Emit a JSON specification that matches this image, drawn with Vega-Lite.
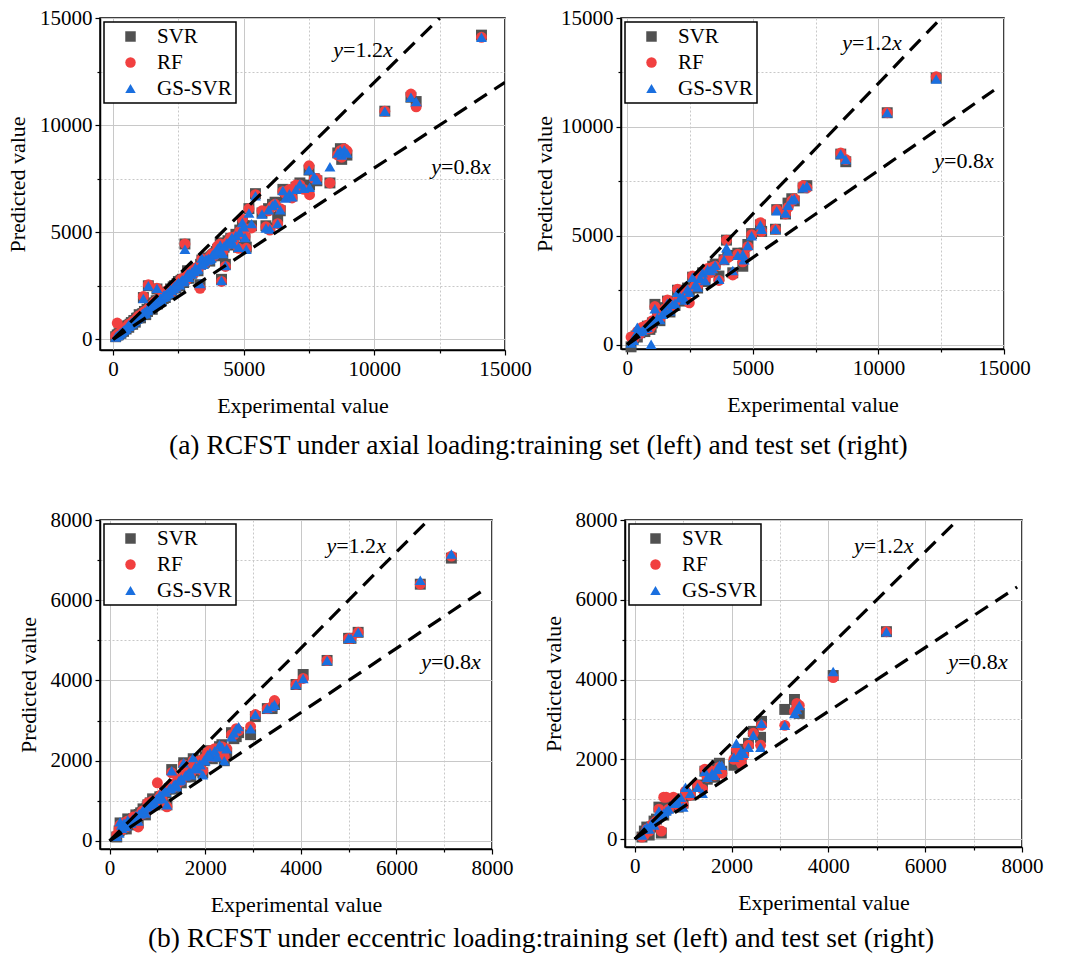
{
"$schema":"https://vega.github.io/schema/vega-lite/v6.json",
"padding":{"left":5,"top":6,"right":0,"bottom":0},
"config":{
 "font":"Liberation Serif",
 "view":{"stroke":"#000","strokeWidth":1.5},
 "axis":{"labelFont":"Liberation Serif","titleFont":"Liberation Serif","labelFontSize":21,"titleFontSize":22,"titleFontWeight":"normal","labelColor":"#000","titleColor":"#000","domainColor":"#000","domainWidth":1.5,"tickColor":"#000","tickWidth":1.2,"gridColor":"#c8c8c8","gridWidth":1,"labelFlush":false,"labelOverlap":false,"labelPadding":3,"format":"d"},
 "axisX":{"titlePadding":16},
 "axisY":{"titlePadding":10},
 "legend":{"orient":"top-left","offset":4,"labelFont":"Liberation Serif","labelFontSize":21,"labelColor":"#000","strokeColor":"#000","strokeWidth":1.5,"fillColor":"#fff","padding":4,"rowPadding":4,"symbolSize":110,"symbolOffset":12,"labelOffset":16,"cornerRadius":0},
 "title":{"font":"Liberation Serif","fontSize":27.5,"fontWeight":"normal","color":"#000"}
},
"datasets":{
 "a":[
{"x":100,"SVR":120,"RF":150,"GS-SVR":110},{"x":160,"SVR":200,"RF":760,"GS-SVR":180},{"x":200,"SVR":210,"RF":250,"GS-SVR":190},{"x":250,"SVR":300,"RF":280,"GS-SVR":260},{"x":300,"SVR":280,"RF":330,"GS-SVR":310},{"x":350,"SVR":400,"RF":380,"GS-SVR":360},{"x":400,"SVR":370,"RF":450,"GS-SVR":420},{"x":450,"SVR":500,"RF":480,"GS-SVR":460},{"x":500,"SVR":480,"RF":560,"GS-SVR":520},{"x":550,"SVR":620,"RF":580,"GS-SVR":600},{"x":600,"SVR":560,"RF":650,"GS-SVR":610},{"x":650,"SVR":700,"RF":690,"GS-SVR":680},{"x":700,"SVR":780,"RF":740,"GS-SVR":720},{"x":750,"SVR":700,"RF":820,"GS-SVR":760},{"x":800,"SVR":880,"RF":850,"GS-SVR":830},{"x":850,"SVR":800,"RF":900,"GS-SVR":870},{"x":900,"SVR":980,"RF":950,"GS-SVR":940},{"x":950,"SVR":1000,"RF":1050,"GS-SVR":990},{"x":1000,"SVR":1150,"RF":1100,"GS-SVR":1080},{"x":1050,"SVR":1000,"RF":1120,"GS-SVR":1060},{"x":1160,"SVR":1950,"RF":2000,"GS-SVR":1900},{"x":1150,"SVR":1200,"RF":1250,"GS-SVR":1180},{"x":1200,"SVR":1300,"RF":1260,"GS-SVR":1280},{"x":1250,"SVR":1150,"RF":1320,"GS-SVR":1200},{"x":1300,"SVR":1400,"RF":1350,"GS-SVR":1380},{"x":1350,"SVR":2500,"RF":2550,"GS-SVR":2500},{"x":1400,"SVR":1450,"RF":1500,"GS-SVR":1430},{"x":1450,"SVR":1600,"RF":1520,"GS-SVR":1580},{"x":1500,"SVR":1400,"RF":1560,"GS-SVR":1500},{"x":1550,"SVR":1700,"RF":1650,"GS-SVR":1680},{"x":1600,"SVR":1650,"RF":1750,"GS-SVR":1640},{"x":1650,"SVR":1800,"RF":1720,"GS-SVR":1760},{"x":1680,"SVR":2350,"RF":2380,"GS-SVR":2380},{"x":1700,"SVR":1650,"RF":1780,"GS-SVR":1700},{"x":1800,"SVR":1900,"RF":1850,"GS-SVR":1880},{"x":1850,"SVR":1800,"RF":1950,"GS-SVR":1830},{"x":1900,"SVR":2000,"RF":1980,"GS-SVR":1960},{"x":1950,"SVR":2100,"RF":2050,"GS-SVR":2080},{"x":2000,"SVR":1950,"RF":2100,"GS-SVR":2000},{"x":2050,"SVR":2150,"RF":2200,"GS-SVR":2120},{"x":2100,"SVR":2200,"RF":2300,"GS-SVR":2180},{"x":2150,"SVR":2100,"RF":2250,"GS-SVR":2150},{"x":2200,"SVR":2350,"RF":2300,"GS-SVR":2320},{"x":2250,"SVR":2300,"RF":2400,"GS-SVR":2280},{"x":2300,"SVR":2450,"RF":2350,"GS-SVR":2400},{"x":2350,"SVR":2500,"RF":2450,"GS-SVR":2480},{"x":2400,"SVR":2400,"RF":2550,"GS-SVR":2450},{"x":2450,"SVR":2600,"RF":2500,"GS-SVR":2580},{"x":2500,"SVR":2700,"RF":2650,"GS-SVR":2650},{"x":2550,"SVR":2500,"RF":2600,"GS-SVR":2550},{"x":2600,"SVR":2750,"RF":2800,"GS-SVR":2700},{"x":2650,"SVR":2800,"RF":2700,"GS-SVR":2780},{"x":2700,"SVR":2650,"RF":2850,"GS-SVR":2700},{"x":2750,"SVR":4450,"RF":4450,"GS-SVR":4200},{"x":2800,"SVR":2950,"RF":2900,"GS-SVR":2920},{"x":2850,"SVR":3200,"RF":3000,"GS-SVR":3050},{"x":2900,"SVR":2850,"RF":3000,"GS-SVR":2900},{"x":3000,"SVR":3100,"RF":3150,"GS-SVR":3050},{"x":3100,"SVR":3200,"RF":3100,"GS-SVR":3180},{"x":3200,"SVR":3300,"RF":3350,"GS-SVR":3250},{"x":3330,"SVR":2550,"RF":2380,"GS-SVR":2600},{"x":3350,"SVR":3500,"RF":3450,"GS-SVR":3480},{"x":3400,"SVR":3700,"RF":3750,"GS-SVR":3800},{"x":3500,"SVR":3600,"RF":3550,"GS-SVR":3620},{"x":3600,"SVR":3750,"RF":3700,"GS-SVR":3700},{"x":3700,"SVR":3650,"RF":3850,"GS-SVR":3720},{"x":3800,"SVR":3900,"RF":4000,"GS-SVR":3950},{"x":3900,"SVR":4000,"RF":3950,"GS-SVR":4050},{"x":4000,"SVR":4200,"RF":4350,"GS-SVR":4250},{"x":4100,"SVR":4500,"RF":4450,"GS-SVR":4400},{"x":4150,"SVR":2800,"RF":2700,"GS-SVR":2750},{"x":4200,"SVR":3900,"RF":4100,"GS-SVR":4000},{"x":4300,"SVR":3500,"RF":3400,"GS-SVR":3450},{"x":4400,"SVR":4600,"RF":4550,"GS-SVR":4500},{"x":4500,"SVR":4700,"RF":4750,"GS-SVR":4650},{"x":4600,"SVR":4400,"RF":4500,"GS-SVR":4450},{"x":4700,"SVR":4900,"RF":4800,"GS-SVR":4850},{"x":4800,"SVR":4300,"RF":4250,"GS-SVR":4300},{"x":4850,"SVR":5100,"RF":5050,"GS-SVR":5000},{"x":4950,"SVR":5500,"RF":5600,"GS-SVR":5450},{"x":5000,"SVR":5300,"RF":5200,"GS-SVR":5250},{"x":5050,"SVR":4700,"RF":4800,"GS-SVR":4750},{"x":5100,"SVR":4300,"RF":4250,"GS-SVR":4200},{"x":5200,"SVR":6100,"RF":6100,"GS-SVR":5900},{"x":5300,"SVR":5300,"RF":5200,"GS-SVR":5400},{"x":5450,"SVR":6800,"RF":6750,"GS-SVR":6700},{"x":5700,"SVR":5900,"RF":6000,"GS-SVR":5850},{"x":5850,"SVR":5300,"RF":5250,"GS-SVR":5200},{"x":5950,"SVR":6100,"RF":6000,"GS-SVR":6050},{"x":6000,"SVR":5200,"RF":5100,"GS-SVR":5150},{"x":6100,"SVR":6300,"RF":6200,"GS-SVR":6250},{"x":6200,"SVR":6400,"RF":6300,"GS-SVR":6350},{"x":6300,"SVR":5700,"RF":5400,"GS-SVR":5400},{"x":6400,"SVR":6000,"RF":6100,"GS-SVR":6050},{"x":6500,"SVR":7000,"RF":6900,"GS-SVR":6950},{"x":6600,"SVR":6700,"RF":6800,"GS-SVR":6600},{"x":6750,"SVR":6900,"RF":7000,"GS-SVR":6800},{"x":6850,"SVR":6700,"RF":6600,"GS-SVR":6650},{"x":7000,"SVR":7100,"RF":7200,"GS-SVR":7000},{"x":7150,"SVR":7300,"RF":7200,"GS-SVR":7250},{"x":7300,"SVR":7100,"RF":7000,"GS-SVR":7050},{"x":7500,"SVR":7900,"RF":8100,"GS-SVR":7900},{"x":7520,"SVR":7200,"RF":6750,"GS-SVR":7100},{"x":7700,"SVR":7500,"RF":7500,"GS-SVR":7600},{"x":7800,"SVR":7400,"RF":7500,"GS-SVR":7450},{"x":8300,"SVR":7300,"RF":7300,"GS-SVR":8050},{"x":8600,"SVR":8700,"RF":8600,"GS-SVR":8700},{"x":8700,"SVR":8900,"RF":8800,"GS-SVR":8800},{"x":8750,"SVR":8400,"RF":8500,"GS-SVR":8600},{"x":8850,"SVR":8700,"RF":8900,"GS-SVR":8850},{"x":8950,"SVR":8600,"RF":8800,"GS-SVR":8700},{"x":10400,"SVR":10650,"RF":10650,"GS-SVR":10650},{"x":11400,"SVR":11300,"RF":11450,"GS-SVR":11300},{"x":11600,"SVR":11100,"RF":10850,"GS-SVR":11100},{"x":14100,"SVR":14200,"RF":14100,"GS-SVR":14100},
{"x":600,"SVR":650,"RF":700,"GS-SVR":680},{"x":700,"SVR":750,"RF":720,"GS-SVR":780},{"x":800,"SVR":850,"RF":820,"GS-SVR":880},{"x":1020,"SVR":1100,"RF":1050,"GS-SVR":1080},{"x":1120,"SVR":1180,"RF":1150,"GS-SVR":1200},{"x":1220,"SVR":1250,"RF":1300,"GS-SVR":1270},{"x":1320,"SVR":1300,"RF":1380,"GS-SVR":1340},{"x":1420,"SVR":1500,"RF":1480,"GS-SVR":1520},{"x":1520,"SVR":1550,"RF":1620,"GS-SVR":1600},{"x":1620,"SVR":1700,"RF":1650,"GS-SVR":1720},{"x":1720,"SVR":1800,"RF":1850,"GS-SVR":1780},{"x":1820,"SVR":1850,"RF":1900,"GS-SVR":1920},{"x":1920,"SVR":1900,"RF":2050,"GS-SVR":2000},{"x":2020,"SVR":2100,"RF":2150,"GS-SVR":2080},{"x":2120,"SVR":2150,"RF":2250,"GS-SVR":2200},{"x":2220,"SVR":2250,"RF":2200,"GS-SVR":2300},{"x":2320,"SVR":2400,"RF":2450,"GS-SVR":2380},{"x":2420,"SVR":2500,"RF":2450,"GS-SVR":2550},{"x":2520,"SVR":2600,"RF":2550,"GS-SVR":2620},{"x":2620,"SVR":2650,"RF":2700,"GS-SVR":2720},{"x":2720,"SVR":2800,"RF":2850,"GS-SVR":2780},{"x":2820,"SVR":2850,"RF":2800,"GS-SVR":2900},{"x":2920,"SVR":3050,"RF":3000,"GS-SVR":3100},{"x":3020,"SVR":3100,"RF":3200,"GS-SVR":3150},{"x":3150,"SVR":3300,"RF":3250,"GS-SVR":3350},{"x":3250,"SVR":3200,"RF":3300,"GS-SVR":3280},{"x":3450,"SVR":3550,"RF":3600,"GS-SVR":3500},{"x":3550,"SVR":3700,"RF":3650,"GS-SVR":3750},{"x":3650,"SVR":3800,"RF":3700,"GS-SVR":3780},{"x":3750,"SVR":3850,"RF":3900,"GS-SVR":3800},{"x":3850,"SVR":3950,"RF":3900,"GS-SVR":3980},{"x":3950,"SVR":4100,"RF":4050,"GS-SVR":4150},{"x":4050,"SVR":4100,"RF":4150,"GS-SVR":4200},{"x":4250,"SVR":4300,"RF":4400,"GS-SVR":4350},{"x":4350,"SVR":4450,"RF":4400,"GS-SVR":4500},{"x":4450,"SVR":4500,"RF":4600,"GS-SVR":4550},{"x":4550,"SVR":4700,"RF":4650,"GS-SVR":4750}
 ],
 "b":[
{"x":150,"SVR":-100,"RF":350,"GS-SVR":80},{"x":250,"SVR":300,"RF":250,"GS-SVR":200},{"x":350,"SVR":400,"RF":450,"GS-SVR":500},{"x":400,"SVR":350,"RF":600,"GS-SVR":800},{"x":500,"SVR":550,"RF":500,"GS-SVR":600},{"x":600,"SVR":700,"RF":800,"GS-SVR":650},{"x":700,"SVR":600,"RF":700,"GS-SVR":750},{"x":800,"SVR":850,"RF":900,"GS-SVR":800},{"x":900,"SVR":700,"RF":750,"GS-SVR":1000},{"x":950,"SVR":800,"RF":850,"GS-SVR":20},{"x":1000,"SVR":1000,"RF":1100,"GS-SVR":1050},{"x":1100,"SVR":1850,"RF":1750,"GS-SVR":1650},{"x":1200,"SVR":1200,"RF":1300,"GS-SVR":1250},{"x":1300,"SVR":1100,"RF":1200,"GS-SVR":1150},{"x":1400,"SVR":1450,"RF":1500,"GS-SVR":1400},{"x":1500,"SVR":1700,"RF":1650,"GS-SVR":1600},{"x":1600,"SVR":2000,"RF":2050,"GS-SVR":1900},{"x":1700,"SVR":1500,"RF":1600,"GS-SVR":1550},{"x":1800,"SVR":1900,"RF":1850,"GS-SVR":1850},{"x":1900,"SVR":1800,"RF":1950,"GS-SVR":1900},{"x":2000,"SVR":2500,"RF":2550,"GS-SVR":2400},{"x":2100,"SVR":2050,"RF":2200,"GS-SVR":2150},{"x":2200,"SVR":2300,"RF":2250,"GS-SVR":2200},{"x":2300,"SVR":2000,"RF":2100,"GS-SVR":2050},{"x":2400,"SVR":2600,"RF":2500,"GS-SVR":2550},{"x":2470,"SVR":2450,"RF":1920,"GS-SVR":2400},{"x":2600,"SVR":3100,"RF":3150,"GS-SVR":3100},{"x":2700,"SVR":2800,"RF":2700,"GS-SVR":2750},{"x":2800,"SVR":2600,"RF":2700,"GS-SVR":2650},{"x":2900,"SVR":3000,"RF":3100,"GS-SVR":3050},{"x":3000,"SVR":3300,"RF":3200,"GS-SVR":3300},{"x":3100,"SVR":2900,"RF":3000,"GS-SVR":2950},{"x":3200,"SVR":3400,"RF":3500,"GS-SVR":3450},{"x":3300,"SVR":3400,"RF":3300,"GS-SVR":3400},{"x":3400,"SVR":3600,"RF":3550,"GS-SVR":3500},{"x":3500,"SVR":3700,"RF":3600,"GS-SVR":3650},{"x":3650,"SVR":3150,"RF":2950,"GS-SVR":3000},{"x":3850,"SVR":3900,"RF":3900,"GS-SVR":3900},{"x":3950,"SVR":4800,"RF":4800,"GS-SVR":4450},{"x":4000,"SVR":4100,"RF":4000,"GS-SVR":4300},{"x":4200,"SVR":3300,"RF":3200,"GS-SVR":3400},{"x":4400,"SVR":4200,"RF":4150,"GS-SVR":4100},{"x":4600,"SVR":3600,"RF":3800,"GS-SVR":4150},{"x":4650,"SVR":4200,"RF":4100,"GS-SVR":3900},{"x":4800,"SVR":4600,"RF":4500,"GS-SVR":4550},{"x":4950,"SVR":5100,"RF":5050,"GS-SVR":5000},{"x":5300,"SVR":5500,"RF":5600,"GS-SVR":5500},{"x":5350,"SVR":5200,"RF":5200,"GS-SVR":5300},{"x":5900,"SVR":5300,"RF":5300,"GS-SVR":5300},{"x":5950,"SVR":6200,"RF":6200,"GS-SVR":6150},{"x":6300,"SVR":6000,"RF":6000,"GS-SVR":6050},{"x":6400,"SVR":6500,"RF":6300,"GS-SVR":6400},{"x":6550,"SVR":6700,"RF":6600,"GS-SVR":6650},{"x":6650,"SVR":6600,"RF":6700,"GS-SVR":6700},{"x":7000,"SVR":7200,"RF":7300,"GS-SVR":7200},{"x":7150,"SVR":7300,"RF":7200,"GS-SVR":7300},{"x":8500,"SVR":8750,"RF":8800,"GS-SVR":8750},{"x":8700,"SVR":8400,"RF":8500,"GS-SVR":8500},{"x":10350,"SVR":10650,"RF":10650,"GS-SVR":10650},{"x":12300,"SVR":12250,"RF":12300,"GS-SVR":12200}
 ],
 "c":[
{"x":150,"SVR":100,"RF":150,"GS-SVR":120},{"x":200,"SVR":250,"RF":300,"GS-SVR":200},{"x":220,"SVR":450,"RF":400,"GS-SVR":480},{"x":250,"SVR":350,"RF":300,"GS-SVR":400},{"x":300,"SVR":400,"RF":450,"GS-SVR":450},{"x":350,"SVR":300,"RF":350,"GS-SVR":380},{"x":380,"SVR":550,"RF":500,"GS-SVR":520},{"x":400,"SVR":500,"RF":450,"GS-SVR":480},{"x":450,"SVR":400,"RF":500,"GS-SVR":450},{"x":500,"SVR":550,"RF":600,"GS-SVR":520},{"x":550,"SVR":650,"RF":600,"GS-SVR":620},{"x":600,"SVR":450,"RF":350,"GS-SVR":500},{"x":650,"SVR":700,"RF":650,"GS-SVR":680},{"x":700,"SVR":800,"RF":750,"GS-SVR":760},{"x":750,"SVR":650,"RF":700,"GS-SVR":700},{"x":800,"SVR":900,"RF":950,"GS-SVR":850},{"x":850,"SVR":950,"RF":900,"GS-SVR":900},{"x":900,"SVR":1050,"RF":1000,"GS-SVR":1000},{"x":950,"SVR":900,"RF":950,"GS-SVR":930},{"x":1000,"SVR":1000,"RF":1450,"GS-SVR":1050},{"x":1050,"SVR":1100,"RF":1100,"GS-SVR":1150},{"x":1100,"SVR":1000,"RF":1050,"GS-SVR":1050},{"x":1150,"SVR":1200,"RF":1250,"GS-SVR":1250},{"x":1200,"SVR":900,"RF":850,"GS-SVR":900},{"x":1250,"SVR":1300,"RF":1350,"GS-SVR":1300},{"x":1300,"SVR":1780,"RF":1700,"GS-SVR":1750},{"x":1350,"SVR":1400,"RF":1350,"GS-SVR":1400},{"x":1400,"SVR":1300,"RF":1400,"GS-SVR":1350},{"x":1450,"SVR":1500,"RF":1550,"GS-SVR":1500},{"x":1500,"SVR":1450,"RF":1500,"GS-SVR":1550},{"x":1550,"SVR":1950,"RF":1900,"GS-SVR":1950},{"x":1600,"SVR":1600,"RF":1650,"GS-SVR":1650},{"x":1650,"SVR":1700,"RF":1650,"GS-SVR":1700},{"x":1700,"SVR":1600,"RF":1700,"GS-SVR":1650},{"x":1750,"SVR":2050,"RF":2000,"GS-SVR":2080},{"x":1800,"SVR":1850,"RF":1900,"GS-SVR":1850},{"x":1850,"SVR":1750,"RF":1800,"GS-SVR":1800},{"x":1900,"SVR":1950,"RF":2000,"GS-SVR":1900},{"x":1950,"SVR":1700,"RF":1750,"GS-SVR":1650},{"x":2000,"SVR":2100,"RF":2050,"GS-SVR":2000},{"x":2050,"SVR":2150,"RF":2200,"GS-SVR":2150},{"x":2100,"SVR":2250,"RF":2250,"GS-SVR":2200},{"x":2150,"SVR":2050,"RF":2100,"GS-SVR":2100},{"x":2200,"SVR":2200,"RF":2300,"GS-SVR":2250},{"x":2250,"SVR":2100,"RF":2150,"GS-SVR":2100},{"x":2300,"SVR":2350,"RF":2300,"GS-SVR":2400},{"x":2350,"SVR":2400,"RF":2350,"GS-SVR":2350},{"x":2400,"SVR":2000,"RF":2100,"GS-SVR":2000},{"x":2450,"SVR":2200,"RF":2300,"GS-SVR":2300},{"x":2550,"SVR":2700,"RF":2650,"GS-SVR":2600},{"x":2600,"SVR":2550,"RF":2650,"GS-SVR":2700},{"x":2650,"SVR":2600,"RF":2800,"GS-SVR":2800},{"x":2700,"SVR":2700,"RF":2750,"GS-SVR":2850},{"x":2950,"SVR":2650,"RF":2850,"GS-SVR":2800},{"x":3050,"SVR":3100,"RF":3150,"GS-SVR":3150},{"x":3300,"SVR":3300,"RF":3300,"GS-SVR":3300},{"x":3400,"SVR":3300,"RF":3350,"GS-SVR":3350},{"x":3450,"SVR":3400,"RF":3500,"GS-SVR":3400},{"x":3900,"SVR":3900,"RF":3900,"GS-SVR":3900},{"x":4050,"SVR":4150,"RF":4050,"GS-SVR":4050},{"x":4550,"SVR":4500,"RF":4500,"GS-SVR":4500},{"x":5000,"SVR":5050,"RF":5050,"GS-SVR":5050},{"x":5050,"SVR":5050,"RF":5050,"GS-SVR":5050},{"x":5200,"SVR":5200,"RF":5200,"GS-SVR":5200},{"x":6500,"SVR":6400,"RF":6400,"GS-SVR":6500},{"x":7150,"SVR":7050,"RF":7100,"GS-SVR":7150},
{"x":260,"SVR":300,"RF":280,"GS-SVR":320},{"x":320,"SVR":350,"RF":380,"GS-SVR":360},{"x":420,"SVR":450,"RF":480,"GS-SVR":460},{"x":480,"SVR":520,"RF":500,"GS-SVR":540},{"x":560,"SVR":600,"RF":580,"GS-SVR":620},{"x":620,"SVR":660,"RF":640,"GS-SVR":680},{"x":680,"SVR":700,"RF":740,"GS-SVR":720},{"x":720,"SVR":780,"RF":760,"GS-SVR":800},{"x":780,"SVR":820,"RF":800,"GS-SVR":850},{"x":880,"SVR":920,"RF":900,"GS-SVR":950},{"x":980,"SVR":1020,"RF":1000,"GS-SVR":1050},{"x":1080,"SVR":1100,"RF":1150,"GS-SVR":1120},{"x":1180,"SVR":1200,"RF":1250,"GS-SVR":1220},{"x":1280,"SVR":1300,"RF":1350,"GS-SVR":1320},{"x":1380,"SVR":1400,"RF":1450,"GS-SVR":1420},{"x":1480,"SVR":1500,"RF":1550,"GS-SVR":1520},{"x":1580,"SVR":1600,"RF":1650,"GS-SVR":1620},{"x":1680,"SVR":1700,"RF":1750,"GS-SVR":1720},{"x":1780,"SVR":1800,"RF":1850,"GS-SVR":1820},{"x":1880,"SVR":1900,"RF":1950,"GS-SVR":1920},{"x":1980,"SVR":2000,"RF":2050,"GS-SVR":2020},{"x":2080,"SVR":2100,"RF":2150,"GS-SVR":2120}
 ],
 "d":[
{"x":150,"SVR":50,"RF":50,"GS-SVR":100},{"x":200,"SVR":200,"RF":100,"GS-SVR":250},{"x":250,"SVR":300,"RF":250,"GS-SVR":300},{"x":300,"SVR":100,"RF":200,"GS-SVR":250},{"x":350,"SVR":300,"RF":350,"GS-SVR":400},{"x":400,"SVR":450,"RF":400,"GS-SVR":350},{"x":450,"SVR":500,"RF":450,"GS-SVR":500},{"x":550,"SVR":150,"RF":200,"GS-SVR":600},{"x":500,"SVR":800,"RF":750,"GS-SVR":700},{"x":600,"SVR":600,"RF":1050,"GS-SVR":650},{"x":650,"SVR":750,"RF":1050,"GS-SVR":700},{"x":700,"SVR":800,"RF":750,"GS-SVR":750},{"x":800,"SVR":850,"RF":1050,"GS-SVR":900},{"x":850,"SVR":1000,"RF":950,"GS-SVR":950},{"x":900,"SVR":800,"RF":850,"GS-SVR":900},{"x":950,"SVR":1000,"RF":1000,"GS-SVR":1050},{"x":1000,"SVR":900,"RF":850,"GS-SVR":800},{"x":1050,"SVR":1100,"RF":1200,"GS-SVR":1300},{"x":1150,"SVR":1100,"RF":1100,"GS-SVR":1150},{"x":1300,"SVR":1350,"RF":1350,"GS-SVR":1300},{"x":1400,"SVR":1350,"RF":1250,"GS-SVR":1150},{"x":1450,"SVR":1700,"RF":1750,"GS-SVR":1700},{"x":1500,"SVR":1500,"RF":1550,"GS-SVR":1550},{"x":1600,"SVR":1700,"RF":1700,"GS-SVR":1650},{"x":1650,"SVR":1550,"RF":1600,"GS-SVR":1600},{"x":1700,"SVR":1850,"RF":1700,"GS-SVR":1750},{"x":1750,"SVR":1900,"RF":1800,"GS-SVR":1850},{"x":1800,"SVR":1700,"RF":1650,"GS-SVR":1850},{"x":2050,"SVR":1850,"RF":2000,"GS-SVR":2050},{"x":2100,"SVR":2100,"RF":2250,"GS-SVR":2400},{"x":2150,"SVR":2000,"RF":2100,"GS-SVR":2100},{"x":2200,"SVR":2050,"RF":1900,"GS-SVR":2200},{"x":2250,"SVR":2250,"RF":2100,"GS-SVR":2150},{"x":2350,"SVR":2400,"RF":2350,"GS-SVR":2300},{"x":2450,"SVR":2700,"RF":2650,"GS-SVR":2600},{"x":2600,"SVR":2550,"RF":2350,"GS-SVR":2300},{"x":2620,"SVR":2950,"RF":2850,"GS-SVR":2900},{"x":3100,"SVR":3250,"RF":2850,"GS-SVR":2850},{"x":3300,"SVR":3500,"RF":3200,"GS-SVR":3150},{"x":3350,"SVR":3300,"RF":3400,"GS-SVR":3250},{"x":3400,"SVR":3150,"RF":3350,"GS-SVR":3350},{"x":4100,"SVR":4100,"RF":4050,"GS-SVR":4200},{"x":5200,"SVR":5200,"RF":5200,"GS-SVR":5200}
 ],
 "la":[{"x":0,"pred":0,"k":"u"},{"x":12500,"pred":15000,"k":"u"},{"x":0,"pred":0,"k":"l"},{"x":15000,"pred":12000,"k":"l"}],
 "lb":[{"x":0,"pred":0,"k":"u"},{"x":12500,"pred":15000,"k":"u"},{"x":0,"pred":0,"k":"l"},{"x":14600,"pred":11680,"k":"l"}],
 "lc":[{"x":0,"pred":0,"k":"u"},{"x":6667,"pred":8000,"k":"u"},{"x":0,"pred":0,"k":"l"},{"x":7900,"pred":6320,"k":"l"}],
 "ta":[{"x":8800,"pred":13500,"eq":"=1.2"},{"x":12550,"pred":8040,"eq":"=0.8"}],
 "tb":[{"x":8950,"pred":13850,"eq":"=1.2"},{"x":12610,"pred":8440,"eq":"=0.8"}],
 "tc":[{"x":4740,"pred":7345,"eq":"=1.2"},{"x":6725,"pred":4450,"eq":"=0.8"}],
 "td":[{"x":4733,"pred":7360,"eq":"=1.2"},{"x":6676,"pred":4444,"eq":"=0.8"}]
},
"resolve":{"scale":{"color":"independent","shape":"independent"},"legend":{"color":"independent","shape":"independent"}},
"spacing":48,
"vconcat":[
 {"title":{"text":"(a) RCFST under axial loading:training set (left) and test set (right)","orient":"bottom","anchor":"middle","offset":15,"dx":20},
  "spacing":0,
  "resolve":{"scale":{"color":"independent","shape":"independent"},"legend":{"color":"independent","shape":"independent"}},
  "hconcat":[
   {"width":405,"height":332,
    "encoding":{
     "x":{"field":"x","type":"quantitative","scale":{"domain":[-500,15000],"nice":false,"zero":false},"axis":{"title":"Experimental value","values":[0,2500,5000,7500,10000,12500,15000],"labelExpr":"datum.value % 5000 == 0 ? datum.label : ''","gridDash":{"condition":{"test":"datum.value % 5000 != 0","value":[2,2]},"value":[]},"tickSize":{"condition":{"test":"datum.value % 5000 != 0","value":3},"value":5}}},
     "y":{"field":"pred","type":"quantitative","scale":{"domain":[-500,15000],"nice":false,"zero":false},"axis":{"title":"Predicted value","values":[0,2500,5000,7500,10000,12500,15000],"labelExpr":"datum.value % 5000 == 0 ? datum.label : ''","gridDash":{"condition":{"test":"datum.value % 5000 != 0","value":[2,2]},"value":[]},"tickSize":{"condition":{"test":"datum.value % 5000 != 0","value":3},"value":5}}}
    },
    "layer":[
     {"data":{"name":"a"},"transform":[{"fold":["SVR","RF","GS-SVR"],"as":["model","pred"]}],
      "mark":{"type":"point","filled":true,"opacity":1,"size":120},
      "encoding":{"color":{"field":"model","type":"nominal","title":null,"scale":{"domain":["SVR","RF","GS-SVR"],"range":["#515151","#F14040","#1A6FDF"]}},"shape":{"field":"model","type":"nominal","title":null,"scale":{"domain":["SVR","RF","GS-SVR"],"range":["square","circle","triangle-up"]}},"order":{"field":"model","sort":"descending"}}},
     {"data":{"name":"la"},"mark":{"type":"line","color":"#000","strokeWidth":3.2,"strokeDash":[15,9],"clip":true},"encoding":{"detail":{"field":"k"}}},
     {"data":{"name":"ta"},"mark":{"type":"text","text":"y","fontStyle":"italic","align":"right","baseline":"middle","fontSize":22,"font":"Liberation Serif","color":"#000"},"encoding":{}},
     {"data":{"name":"ta"},"mark":{"type":"text","align":"left","baseline":"middle","fontSize":22,"font":"Liberation Serif","color":"#000"},"encoding":{"text":{"field":"eq"}}},
     {"data":{"name":"ta"},"mark":{"type":"text","text":"x","fontStyle":"italic","align":"left","dx":40,"baseline":"middle","fontSize":22,"font":"Liberation Serif","color":"#000"},"encoding":{}}
    ]},
   {"width":383,"height":331,
    "encoding":{
     "x":{"field":"x","type":"quantitative","scale":{"domain":[-250,15000],"nice":false,"zero":false},"axis":{"title":"Experimental value","values":[0,2500,5000,7500,10000,12500,15000],"labelExpr":"datum.value % 5000 == 0 ? datum.label : ''","gridDash":{"condition":{"test":"datum.value % 5000 != 0","value":[2,2]},"value":[]},"tickSize":{"condition":{"test":"datum.value % 5000 != 0","value":3},"value":5}}},
     "y":{"field":"pred","type":"quantitative","scale":{"domain":[-200,15000],"nice":false,"zero":false},"axis":{"title":"Predicted value","titlePadding":4,"values":[0,2500,5000,7500,10000,12500,15000],"labelExpr":"datum.value % 5000 == 0 ? datum.label : ''","gridDash":{"condition":{"test":"datum.value % 5000 != 0","value":[2,2]},"value":[]},"tickSize":{"condition":{"test":"datum.value % 5000 != 0","value":3},"value":5}}}
    },
    "layer":[
     {"data":{"name":"b"},"transform":[{"fold":["SVR","RF","GS-SVR"],"as":["model","pred"]}],
      "mark":{"type":"point","filled":true,"opacity":1,"size":120},
      "encoding":{"color":{"field":"model","type":"nominal","title":null,"scale":{"domain":["SVR","RF","GS-SVR"],"range":["#515151","#F14040","#1A6FDF"]}},"shape":{"field":"model","type":"nominal","title":null,"scale":{"domain":["SVR","RF","GS-SVR"],"range":["square","circle","triangle-up"]}},"order":{"field":"model","sort":"descending"}}},
     {"data":{"name":"lb"},"mark":{"type":"line","color":"#000","strokeWidth":3.2,"strokeDash":[15,9],"clip":true},"encoding":{"detail":{"field":"k"}}},
     {"data":{"name":"tb"},"mark":{"type":"text","text":"y","fontStyle":"italic","align":"right","baseline":"middle","fontSize":22,"font":"Liberation Serif","color":"#000"},"encoding":{}},
     {"data":{"name":"tb"},"mark":{"type":"text","align":"left","baseline":"middle","fontSize":22,"font":"Liberation Serif","color":"#000"},"encoding":{"text":{"field":"eq"}}},
     {"data":{"name":"tb"},"mark":{"type":"text","text":"x","fontStyle":"italic","align":"left","dx":40,"baseline":"middle","fontSize":22,"font":"Liberation Serif","color":"#000"},"encoding":{}}
    ]}
  ]},
 {"title":{"text":"(b) RCFST under eccentric loading:training set (left) and test set (right)","orient":"bottom","anchor":"middle","offset":9,"dx":11},
  "spacing":27,
  "resolve":{"scale":{"color":"independent","shape":"independent"},"legend":{"color":"independent","shape":"independent"}},
  "hconcat":[
   {"width":392,"height":329,
    "encoding":{
     "x":{"field":"x","type":"quantitative","scale":{"domain":[-200,8000],"nice":false,"zero":false},"axis":{"title":"Experimental value","values":[0,1000,2000,3000,4000,5000,6000,7000,8000],"labelExpr":"datum.value % 2000 == 0 ? datum.label : ''","gridDash":{"condition":{"test":"datum.value % 2000 != 0","value":[2,2]},"value":[]},"tickSize":{"condition":{"test":"datum.value % 2000 != 0","value":3},"value":5}}},
     "y":{"field":"pred","type":"quantitative","scale":{"domain":[-200,8000],"nice":false,"zero":false},"axis":{"title":"Predicted value","values":[0,1000,2000,3000,4000,5000,6000,7000,8000],"labelExpr":"datum.value % 2000 == 0 ? datum.label : ''","gridDash":{"condition":{"test":"datum.value % 2000 != 0","value":[2,2]},"value":[]},"tickSize":{"condition":{"test":"datum.value % 2000 != 0","value":3},"value":5}}}
    },
    "layer":[
     {"data":{"name":"c"},"transform":[{"fold":["SVR","RF","GS-SVR"],"as":["model","pred"]}],
      "mark":{"type":"point","filled":true,"opacity":1,"size":120},
      "encoding":{"color":{"field":"model","type":"nominal","title":null,"scale":{"domain":["SVR","RF","GS-SVR"],"range":["#515151","#F14040","#1A6FDF"]}},"shape":{"field":"model","type":"nominal","title":null,"scale":{"domain":["SVR","RF","GS-SVR"],"range":["square","circle","triangle-up"]}},"order":{"field":"model","sort":"descending"}}},
     {"data":{"name":"lc"},"mark":{"type":"line","color":"#000","strokeWidth":3.2,"strokeDash":[15,9],"clip":true},"encoding":{"detail":{"field":"k"}}},
     {"data":{"name":"tc"},"mark":{"type":"text","text":"y","fontStyle":"italic","align":"right","baseline":"middle","fontSize":22,"font":"Liberation Serif","color":"#000"},"encoding":{}},
     {"data":{"name":"tc"},"mark":{"type":"text","align":"left","baseline":"middle","fontSize":22,"font":"Liberation Serif","color":"#000"},"encoding":{"text":{"field":"eq"}}},
     {"data":{"name":"tc"},"mark":{"type":"text","text":"x","fontStyle":"italic","align":"left","dx":40,"baseline":"middle","fontSize":22,"font":"Liberation Serif","color":"#000"},"encoding":{}}
    ]},
   {"width":397,"height":327,
    "encoding":{
     "x":{"field":"x","type":"quantitative","scale":{"domain":[-200,8000],"nice":false,"zero":false},"axis":{"title":"Experimental value","values":[0,1000,2000,3000,4000,5000,6000,7000,8000],"labelExpr":"datum.value % 2000 == 0 ? datum.label : ''","gridDash":{"condition":{"test":"datum.value % 2000 != 0","value":[2,2]},"value":[]},"tickSize":{"condition":{"test":"datum.value % 2000 != 0","value":3},"value":5}}},
     "y":{"field":"pred","type":"quantitative","scale":{"domain":[-200,8000],"nice":false,"zero":false},"axis":{"title":"Predicted value","values":[0,1000,2000,3000,4000,5000,6000,7000,8000],"labelExpr":"datum.value % 2000 == 0 ? datum.label : ''","gridDash":{"condition":{"test":"datum.value % 2000 != 0","value":[2,2]},"value":[]},"tickSize":{"condition":{"test":"datum.value % 2000 != 0","value":3},"value":5}}}
    },
    "layer":[
     {"data":{"name":"d"},"transform":[{"fold":["SVR","RF","GS-SVR"],"as":["model","pred"]}],
      "mark":{"type":"point","filled":true,"opacity":1,"size":120},
      "encoding":{"color":{"field":"model","type":"nominal","title":null,"scale":{"domain":["SVR","RF","GS-SVR"],"range":["#515151","#F14040","#1A6FDF"]}},"shape":{"field":"model","type":"nominal","title":null,"scale":{"domain":["SVR","RF","GS-SVR"],"range":["square","circle","triangle-up"]}},"order":{"field":"model","sort":"descending"}}},
     {"data":{"name":"lc"},"mark":{"type":"line","color":"#000","strokeWidth":3.2,"strokeDash":[15,9],"clip":true},"encoding":{"detail":{"field":"k"}}},
     {"data":{"name":"td"},"mark":{"type":"text","text":"y","fontStyle":"italic","align":"right","baseline":"middle","fontSize":22,"font":"Liberation Serif","color":"#000"},"encoding":{}},
     {"data":{"name":"td"},"mark":{"type":"text","align":"left","baseline":"middle","fontSize":22,"font":"Liberation Serif","color":"#000"},"encoding":{"text":{"field":"eq"}}},
     {"data":{"name":"td"},"mark":{"type":"text","text":"x","fontStyle":"italic","align":"left","dx":40,"baseline":"middle","fontSize":22,"font":"Liberation Serif","color":"#000"},"encoding":{}}
    ]}
  ]}
]
}
